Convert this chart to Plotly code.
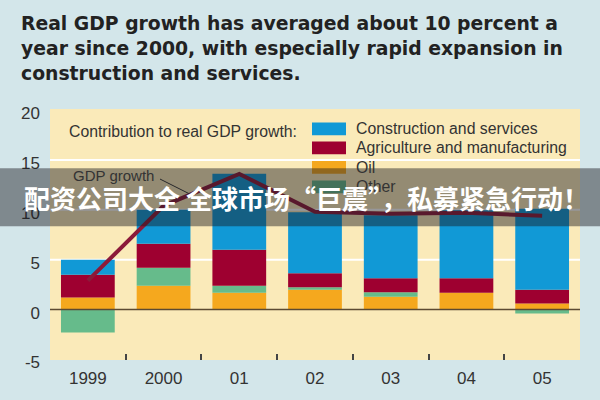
import plotly.graph_objects as go

years = ["1999", "2000", "01", "02", "03", "04", "05"]
oil = [1.2, 2.4, 1.7, 2.0, 1.3, 1.7, 0.6]
other = [-2.3, 1.8, 0.7, 0.25, 0.45, 0.0, -0.4]
agri = [2.3, 2.4, 3.6, 1.4, 1.4, 1.45, 1.4]
constr = [1.5, 3.4, 7.6, 6.1, 6.3, 6.8, 8.1]
gdp = [2.9, 10.4, 13.6, 9.8, 9.6, 9.7, 9.4]
y_ticks = [-5, 0, 5, 10, 15, 20]
y_tick_labels = ["-5", "0", "5", "10", "15", "20"]
title_lines = ["Real GDP growth has averaged about 10 percent a",
               "year since 2000, with especially rapid expansion in",
               "construction and services."]

C_BLUE = "#1199d6"
C_RED = "#9e0030"
C_OIL = "#f5a81e"
C_OTHER = "#66bb8b"
C_LINE = "#8c1a3a"
BG = "#d3e6ea"
PLOT_BG = "#faeab9"
TXT = "#333333"

W, H = 600, 400
ML, MR, MT, MB = 50, 20, 109, 33
PW, PH = W - ML - MR, H - MT - MB


def px(x):
    return (x - ML) / PW


def py(y):
    return (H - MB - y) / PH


fig = go.Figure()
fig.add_bar(x=years, y=oil, name="Oil", marker_color=C_OIL, marker_line_width=0)
fig.add_bar(x=years, y=other, name="Other", marker_color=C_OTHER, marker_line_width=0)
fig.add_bar(x=years, y=agri, name="Agriculture and manufacturing", marker_color=C_RED, marker_line_width=0)
fig.add_bar(x=years, y=constr, name="Construction and services", marker_color=C_BLUE, marker_line_width=0)
fig.add_scatter(x=years, y=gdp, mode="lines", name="GDP growth",
                line=dict(color=C_LINE, width=4))

shapes = []
# gridlines
for g in [5, 10, 15]:
    shapes.append(dict(type="line", xref="paper", yref="y", x0=0, x1=1, y0=g, y1=g,
                       line=dict(color="white", width=2), layer="below"))
# zero line
shapes.append(dict(type="line", xref="paper", yref="y", x0=0, x1=1, y0=0, y1=0,
                   line=dict(color="#5b4a32", width=1.5), layer="above"))

annotations = []
# title, one annotation per line
for i, line in enumerate(title_lines):
    annotations.append(dict(
        xref="paper", yref="paper", x=px(19), y=py(21 + 26 * i), xanchor="left", yanchor="middle",
        align="left", showarrow=False, text="<b>" + line + "</b>",
        font=dict(family="DejaVu Sans", size=18.8, color="#222222")))

# legend header
annotations.append(dict(
    xref="paper", yref="paper", x=px(67), y=py(132), xanchor="left", yanchor="middle",
    showarrow=False, text="Contribution to real GDP growth:",
    font=dict(family="Liberation Sans", size=15.8, color=TXT)))

legend_items = [("Construction and services", C_BLUE, 129.5),
                ("Agriculture and manufacturing", C_RED, 149),
                ("Oil", C_OIL, 169),
                ("Other", C_OTHER, 189)]
for name, col, yc in legend_items:
    shapes.append(dict(type="rect", xref="paper", yref="paper",
                       x0=px(312), x1=px(346), y0=py(yc + 6.5), y1=py(yc - 6.5),
                       fillcolor=col, line=dict(width=0), layer="above"))
    annotations.append(dict(
        xref="paper", yref="paper", x=px(354), y=py(yc), xanchor="left", yanchor="middle",
        showarrow=False, text=name,
        font=dict(family="Liberation Sans", size=15.8, color=TXT)))

# GDP growth label with leader line
annotations.append(dict(
    xref="paper", yref="paper", x=px(113), y=py(177), xanchor="center", yanchor="middle",
    showarrow=False, text="GDP growth",
    font=dict(family="Liberation Sans", size=15, color=TXT)))
shapes.append(dict(type="line", xref="paper", yref="paper",
                   x0=px(160), y0=py(181), x1=px(189), y1=py(196),
                   line=dict(color="#333333", width=1), layer="above"))

# overlay banner (box as shape on top of the chart, text as annotation)
shapes.append(dict(type="rect", xref="paper", yref="paper",
                   x0=px(0), x1=px(600), y0=py(229.5), y1=py(170),
                   fillcolor="rgba(25,25,30,0.45)", line=dict(width=0), layer="above"))
annotations.append(dict(
    xref="paper", yref="paper", x=px(306), y=py(199.5), xanchor="center", yanchor="middle",
    showarrow=False, align="center",
    text="<b>配资公司大全 全球市场“巨震”，私募紧急行动！</b>",
    font=dict(family="Noto Sans CJK SC", size=26, color="white")))

fig.update_layout(
    width=W, height=H,
    margin=dict(l=ML, r=MR, t=MT, b=MB, pad=0),
    paper_bgcolor=BG, plot_bgcolor=PLOT_BG,
    barmode="relative", bargap=0.29,
    showlegend=False,
    shapes=shapes, annotations=annotations,
    xaxis=dict(type="category", tickson="boundaries", ticks="inside", ticklen=6,
               tickwidth=2, tickcolor="#444444", showgrid=False, showline=False,
               zeroline=False, tickfont=dict(family="Liberation Sans", size=17, color=TXT),
               ticklabelstandoff=6),
    yaxis=dict(range=[-5.05, 20.1], tickvals=y_ticks, ticktext=y_tick_labels,
               showgrid=False, zeroline=False,
               showline=False, ticks="", ticklabelstandoff=9, ticklabelshift=3,
               tickfont=dict(family="Liberation Sans", size=17, color=TXT)),
)

fig.write_html("out.html")
